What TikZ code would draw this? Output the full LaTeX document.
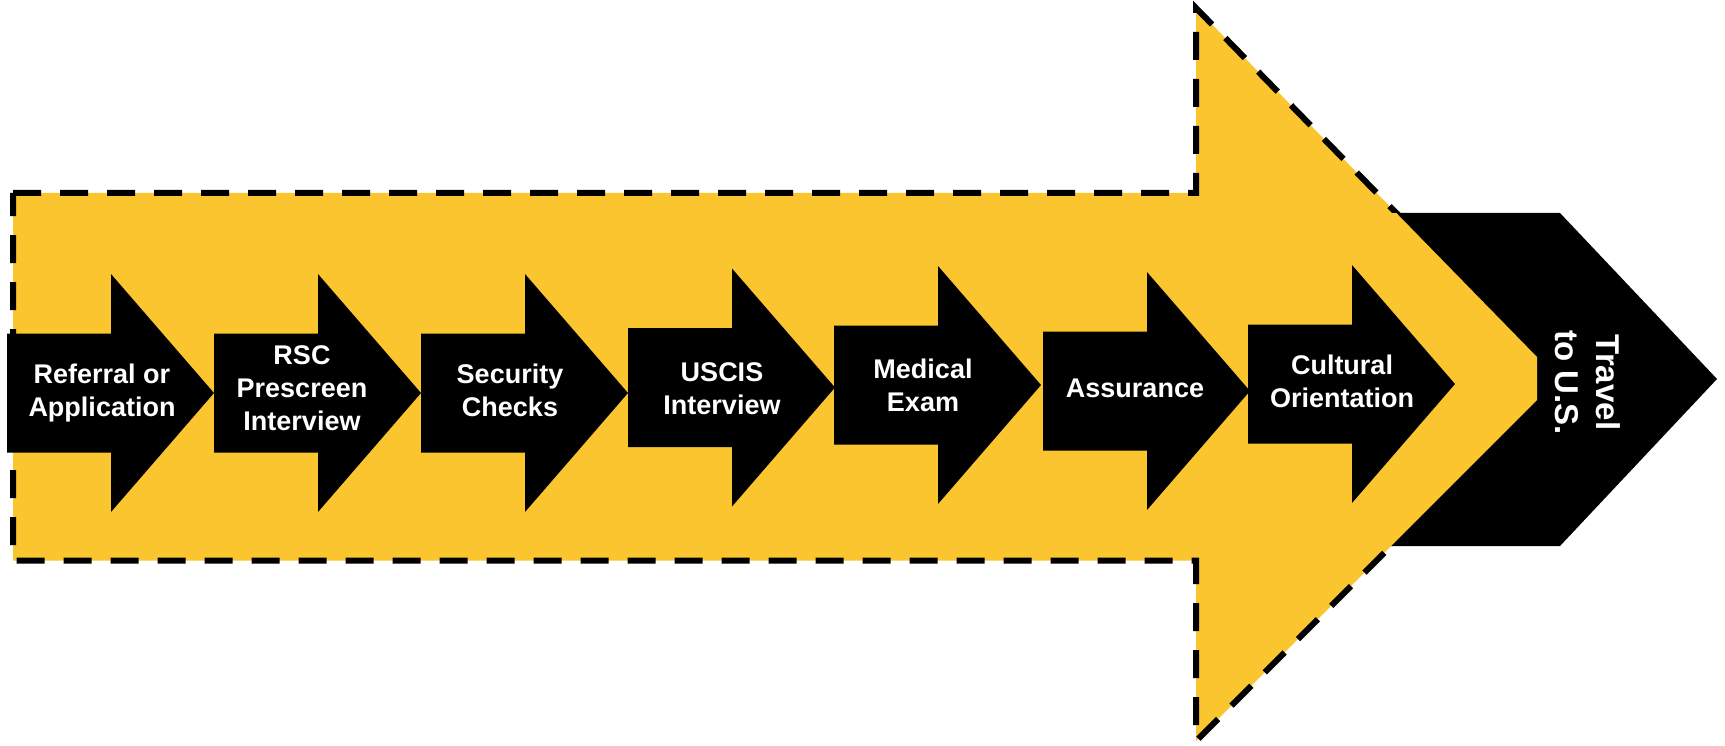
\documentclass[tikz,border=0pt]{standalone}
\usepackage{fontspec}
\setmainfont{Liberation Sans}
\definecolor{gold}{RGB}{251,197,48}
\tikzset{
  stepshape/.style={fill=black, draw=none},
  steptext/.style={text=white, font=\fontsize{27}{33}\selectfont\bfseries, align=center, inner sep=0pt},
  traveltext/.style={text=white, font=\fontsize{33}{41}\selectfont\bfseries, align=center, inner sep=0pt, rotate=-90},
  bigfill/.style={fill=gold, draw=none},
  bigborder/.style={draw=black, line width=6pt, dash pattern=on 28pt off 19pt, line join=miter},
}
\newcommand{\rsArrow}[2]{%
  \fill[stepshape] ({#1},{#2-59.5}) -- ({#1+104},{#2-59.5}) -- ({#1+104},{#2-119}) --
    ({#1+207},{#2}) -- ({#1+104},{#2+119}) -- ({#1+104},{#2+59.5}) -- ({#1},{#2+59.5}) -- cycle;
}
\newcommand{\bigOutline}{(13,193) -- (1196,193) -- (1196,8) -- (1537,357) -- (1537,400) -- (1196,741) -- (1196,560.5) -- (13,560.5) -- cycle}
\newcommand{\travelOutline}{(1380,213) -- (1560,213) -- (1717,379) -- (1560,546) -- (1380,546) -- cycle}
\begin{document}
\begin{tikzpicture}[x=1pt,y=-1pt]
\useasboundingbox (0,0) rectangle (1725,746);
% final black arrow (behind)
\fill[stepshape] \travelOutline;
% big yellow arrow
\fill[bigfill] \bigOutline;
\begin{scope}[even odd rule]
  \clip (-10,-10) rectangle (1735,756) \travelOutline;
  \draw[bigborder] \bigOutline;
\end{scope}
% step arrows
\rsArrow{7}{393}
\rsArrow{214}{393}
\rsArrow{421}{393}
\rsArrow{628}{387.5}
\rsArrow{834}{385}
\rsArrow{1043}{391}
\rsArrow{1248}{384}
% texts
\node[steptext] (s1) at (102,393) {Referral or\\Application};
\node[steptext] (s2) at (302,388.5) {RSC\\Prescreen\\Interview};
\node[steptext] (s3) at (510,390) {Security\\Checks};
\node[steptext] (s4) at (722,388.7) {USCIS\\Interview};
\node[steptext] (s5) at (923,385.6) {Medical\\Exam};
\node[steptext] (s6) at (1135,388) {Assurance};
\node[steptext] (s7) at (1342,381.3) {Cultural\\Orientation};
\node[traveltext] (travel) at (1588,382.5) {Travel\\to U.S.};
\end{tikzpicture}
\end{document}
